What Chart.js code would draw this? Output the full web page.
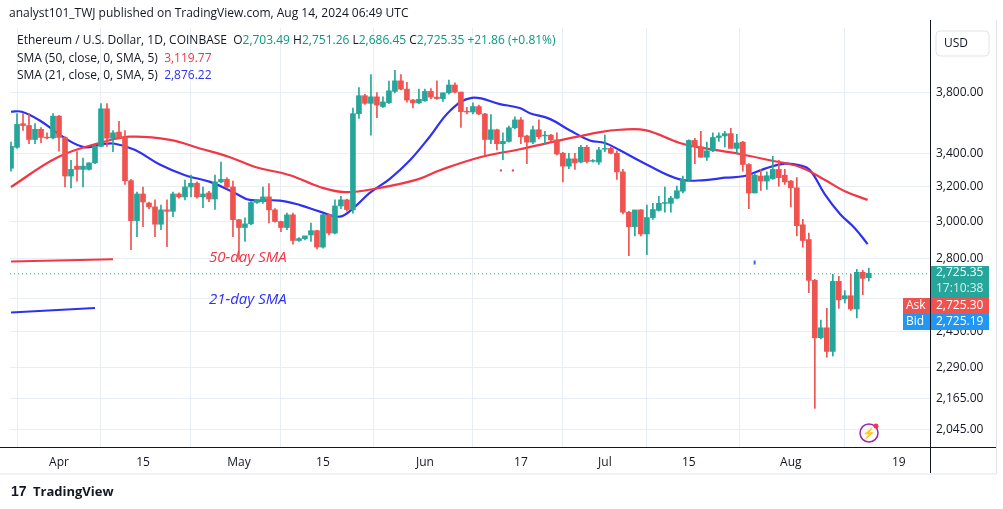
<!DOCTYPE html>
<html><head><meta charset="utf-8">
<script src="https://cdn.jsdelivr.net/npm/chart.js@4.4.1/dist/chart.umd.min.js"></script>
<style>html,body{margin:0;padding:0;background:#fff;}#wrap{position:absolute;left:0;top:0;width:1003px;height:509px;}</style>
</head><body><div id="wrap"><canvas id="c" width="1003" height="509"></canvas></div>
<script>
// Daily candles, index 0 = 24 Mar 2024 ... index 143 = 14 Aug 2024
const opens  = [3307,3437,3590,3578,3487,3553,3500,3497,3640,3500,3260,3320,3300,3300,3340,3443,3690,3495,3535,3500,3232,3003,3154,3102,3080,2983,3063,3055,3154,3137,3195,3217,3137,3160,3125,3225,3240,3195,3008,2965,2985,3105,3110,3137,3063,2998,2965,3035,2895,2905,2925,2948,2860,3035,2935,3085,3120,
3063,3657,3780,3727,3772,3705,3732,3810,3885,3826,3750,3730,3745,3810,3770,3760,3800,3855,3805,3670,3668,3705,3655,3487,3550,3460,3475,3563,3615,3510,3470,3550,3510,3515,3485,3400,3320,3365,3345,3437,3350,3345,3425,3430,3400,3285,3050,2970,3063,2930,3020,3060,
3100,3100,3130,3170,3236,3481,3440,3375,3415,3500,3510,3525,3430,3470,3330,3160,3260,3230,3245,3300,3265,3230,3190,2980,2900,2690,2420,2465,2360,2685,2600,2615,2552,2730,2703.49];
const highs  = [3470,3657,3657,3657,3590,3565,3530,3657,3645,3505,3356,3410,3370,3340,3450,3725,3725,3545,3605,3545,3240,3165,3195,3108,3120,3090,3120,3165,3160,3236,3265,3225,3195,3170,3265,3345,3250,3230,3010,3018,3110,3120,3195,3215,3070,3000,3045,3045,2910,2915,2990,2950,3040,3040,3120,3140,3125,
3695,3837,3790,3930,3802,3772,3883,3960,3930,3875,3755,3826,3826,3830,3885,3800,3890,3870,3805,3700,3730,3715,3660,3650,3555,3530,3575,3635,3630,3515,3575,3615,3540,3520,3530,3405,3400,3400,3450,3450,3360,3437,3515,3440,3415,3300,3055,3060,3065,3090,3100,3140,
3195,3140,3200,3260,3485,3495,3540,3470,3530,3530,3540,3560,3520,3475,3335,3275,3300,3285,3380,3355,3300,3235,3250,3010,2935,2695,2500,2555,2720,2710,2640,2720,2745,2740,2751.26];
const lows   = [3290,3430,3545,3460,3460,3467,3490,3490,3413,3195,3190,3230,3195,3295,3335,3440,3443,3410,3490,3210,2847,2915,2970,3070,2915,2953,2862,3025,3130,3120,3137,3130,3075,3110,3065,3220,3190,2915,2796,2890,2980,3100,3100,2990,2995,2942,2953,2875,2890,2898,2890,2850,2855,2925,2930,3070,3055,
3045,3625,3720,3515,3630,3700,3725,3800,3820,3735,3695,3725,3740,3760,3755,3740,3790,3800,3565,3655,3655,3650,3390,3460,3420,3360,3470,3555,3460,3335,3460,3490,3455,3480,3390,3225,3305,3300,3340,3340,3345,3330,3410,3395,3240,3040,2815,2920,2920,2820,3010,3055,
3050,3050,3125,3160,3230,3335,3375,3355,3410,3475,3440,3440,3400,3290,3070,3160,3175,3180,3240,3200,3210,3080,2920,2860,2630,2125,2415,2335,2340,2555,2580,2545,2510,2620,2686.45];
const closes = [3443,3585,3578,3487,3553,3500,3497,3640,3500,3260,3300,3300,3320,3340,3443,3690,3495,3530,3495,3232,3003,3154,3108,3080,2983,3063,3055,3154,3137,3195,3217,3137,3154,3125,3225,3240,3195,3008,2965,2985,3105,3118,3137,3063,2998,2965,3035,2895,2905,2920,2948,2860,3035,2935,3085,3120,3065,
3657,3780,3727,3772,3715,3737,3814,3885,3826,3750,3730,3755,3810,3770,3760,3800,3855,3805,3670,3668,3705,3655,3487,3550,3460,3475,3563,3615,3505,3470,3550,3505,3512,3485,3395,3320,3365,3340,3437,3348,3352,3420,3427,3400,3285,3050,2970,3063,2930,3020,3065,3100,
3102,3130,3173,3240,3481,3440,3375,3415,3500,3510,3525,3430,3465,3330,3160,3265,3230,3262,3300,3250,3225,3190,2975,2895,2690,2420,2465,2360,2685,2595,2615,2552,2730,2700,2725.35];
// SMA lines read at sample candle indices
const sma50Idx = [0,7.8,14.8,19.8,26.5,31.5,36.5,40.7,46.5,51.5,55.7,61.5,67.8,71.5,78.2,84.8,91.5,98.2,101.5,105.7,111.5,114.8,121.5,126.5,131.5,135.7,139,142.8];
const sma50Val = [3195,3375,3465,3505,3485,3430,3375,3315,3265,3195,3165,3190,3240,3295,3375,3425,3481,3535,3550,3548,3465,3437,3395,3356,3315,3236,3170,3120];
const sma21Idx = [0,1.8,4.8,9,12.3,14.8,17.3,20.7,24.8,29,33.2,37.3,39.8,44.8,48.2,51.5,54.8,57.3,59.8,63.2,66.5,69.8,73.2,76.8,81.5,84.8,86.5,89.8,93.2,96.5,99,101.5,105.7,111.5,115.7,119,122.3,125.7,129,131.5,133.2,135.7,138.2,140.7,142.8];
const sma21Val = [3670,3670,3611,3495,3437,3455,3460,3420,3330,3265,3225,3160,3120,3116,3090,3053,3025,3080,3160,3245,3356,3505,3677,3765,3722,3695,3660,3622,3545,3481,3465,3418,3335,3240,3236,3250,3260,3305,3335,3325,3295,3150,3040,2960,2876];
const priceTicks = [3800,3400,3200,3000,2800,2600,2450,2290,2165,2045];
const dateTickIdx = [8,22,38,52,69,85,99,113,130,148];
const dateTickLbl = ['Apr','15','May','15','Jun','17','Jul','15','Aug','19'];
const lastPrice = 2725.35, askPrice = 2725.30, bidPrice = 2725.19;

const UP='#26a69a', DN='#ef5350';
const cols = opens.map((o,i)=> closes[i]>=o ? UP : DN);
const wicks = opens.map((o,i)=>({x:i, y:[lows[i],highs[i]]}));
const bodies = opens.map((o,i)=>{let a=Math.min(o,closes[i]),b=Math.max(o,closes[i]); if(b/a<1.0015){b=a*1.0015;} return {x:i,y:[a,b]};});
const fmt = v => v.toLocaleString('en-US',{minimumFractionDigits:2,maximumFractionDigits:2});

const extras = {
  id:'extras',
  afterDraw(ch){
    const c=ch.ctx, x=ch.scales.x, y=ch.scales.y, A=ch.chartArea;
    c.save();
    const yl=y.getPixelForValue(lastPrice);
    c.strokeStyle=UP; c.lineWidth=1; c.setLineDash([1,3]);
    c.beginPath(); c.moveTo(A.left,yl+0.5); c.lineTo(A.right,yl+0.5); c.stroke(); c.setLineDash([]);
    c.lineWidth=2;
    c.strokeStyle='#f23645'; c.beginPath(); c.moveTo(x.getPixelForValue(0),y.getPixelForValue(2785)); c.lineTo(x.getPixelForValue(17),y.getPixelForValue(2797)); c.stroke();
    c.strokeStyle='#2e31f0'; c.beginPath(); c.moveTo(x.getPixelForValue(0),y.getPixelForValue(2535)); c.lineTo(x.getPixelForValue(14),y.getPixelForValue(2556)); c.stroke();
    c.font='italic 15px "Open Sans", Arial'; c.textBaseline='middle'; c.textAlign='left';
    c.fillStyle='#f23645'; c.fillText('50-day SMA',x.getPixelForValue(33),y.getPixelForValue(2805));
    c.fillStyle='#2e31f0'; c.fillText('21-day SMA',x.getPixelForValue(33),y.getPixelForValue(2595));
    c.fillStyle='#f23645'; c.fillRect(x.getPixelForValue(81.5),y.getPixelForValue(3300),2,2); c.fillRect(x.getPixelForValue(83.5),y.getPixelForValue(3300),2,2);
    c.fillStyle='#2e6bf0'; c.fillRect(x.getPixelForValue(123.8),y.getPixelForValue(2790),2,4);
    c.strokeStyle='#131722'; c.lineWidth=1;
    c.beginPath(); c.moveTo(A.right+0.5,20); c.lineTo(A.right+0.5,473); c.stroke();
    c.beginPath(); c.moveTo(0,A.bottom+0.5); c.lineTo(996,A.bottom+0.5); c.stroke();
    c.strokeStyle='#e0e3eb';
    c.beginPath(); c.moveTo(996.5,20); c.lineTo(996.5,474); c.lineTo(0,474); c.stroke();
    c.font='12px "Open Sans", Arial'; c.textAlign='left';
    c.fillStyle=UP; c.fillRect(A.right+1,266,58,32);
    c.fillStyle='#fff'; c.fillText(fmt(lastPrice),936,273);
    c.fillStyle='#d6f1ee'; c.fillText('17:10:38',936,289);
    c.fillStyle=DN; c.fillRect(903,298,27,16); c.fillRect(A.right+1,298,58,16);
    c.fillStyle='#2196f3'; c.fillRect(903,314,27,16); c.fillRect(A.right+1,314,58,16);
    c.fillStyle='#fff'; c.fillText('Ask',906,306); c.fillText(fmt(askPrice),936,306);
    c.fillText('Bid',906,322); c.fillText(fmt(bidPrice),936,322);
    c.strokeStyle='#e0e3eb'; c.beginPath(); c.roundRect(936,31,53,25,4); c.stroke();
    c.fillStyle='#131722'; c.fillText('USD',944,44);
    c.font='12px "Open Sans", Arial'; c.fillStyle='#131722';
    c.fillText('analyst101_TWJ published on TradingView.com, Aug 14, 2024 06:49 UTC',9,14);
    let t='Ethereum / U.S. Dollar, 1D, COINBASE  '; c.fillStyle='#131722'; c.fillText(t,17,41);
    let px=17+c.measureText(t).width;
    [['O','2,703.49 '],['H','2,751.26 '],['L','2,686.45 '],['C','2,725.35 ']].forEach(p=>{
      c.fillStyle='#131722'; c.fillText(p[0],px,41); px+=c.measureText(p[0]).width;
      c.fillStyle='#089981'; c.fillText(p[1],px,41); px+=c.measureText(p[1]).width;});
    c.fillStyle='#089981'; c.fillText('+21.86 (+0.81%)',px,41);
    t='SMA (50, close, 0, SMA, 5)  '; c.fillStyle='#131722'; c.fillText(t,17,59);
    c.fillStyle='#f23645'; c.fillText('3,119.77',17+c.measureText(t).width,59);
    t='SMA (21, close, 0, SMA, 5)  '; c.fillStyle='#131722'; c.fillText(t,17,76);
    c.fillStyle='#2e31f0'; c.fillText('2,876.22',17+c.measureText(t).width,76);
    c.strokeStyle='#9c27b0'; c.lineWidth=1.5; c.beginPath(); c.arc(869,433,9,0,Math.PI*2); c.stroke();
    c.fillStyle='#9c27b0'; c.font='bold 11px Arial'; c.textAlign='center'; c.fillText('⚡',869,434);
    c.fillStyle='#f23645'; c.beginPath(); c.arc(876,426,2.5,0,Math.PI*2); c.fill();
    c.textAlign='left'; c.fillStyle='#131722'; c.font='bold 13px "Open Sans", Arial';
    c.fillText('TradingView',33,492);
    c.font='bold 14px Arial'; c.fillText('17',11,492);
    c.restore();
  }
};

new Chart(document.getElementById('c'),{
  data:{datasets:[
    {type:'line',data:sma50Idx.map((v,i)=>({x:v,y:sma50Val[i]})),borderColor:'#f23645',borderWidth:2.2,pointRadius:0,tension:0.4,order:3},
    {type:'line',data:sma21Idx.map((v,i)=>({x:v,y:sma21Val[i]})),borderColor:'#2e31f0',borderWidth:2.2,pointRadius:0,tension:0.4,order:3},
    {type:'bar',data:wicks,backgroundColor:cols,barThickness:1,grouped:false,order:2},
    {type:'bar',data:bodies,backgroundColor:cols,barThickness:5,grouped:false,order:1}
  ]},
  options:{
    responsive:false,animation:false,
    layout:{padding:{left:10,top:28,right:0,bottom:0}},
    plugins:{legend:{display:false},tooltip:{enabled:false}},
    scales:{
      x:{type:'linear',min:-0.17,max:153.2,offset:false,
        grid:{color:'#e9eef4',drawTicks:false},border:{display:false},
        afterBuildTicks:s=>{s.ticks=dateTickIdx.map(v=>({value:v}));},
        afterFit:s=>{s.height=62;},
        ticks:{autoSkip:false,maxRotation:0,padding:8,color:'#131722',font:{size:12,family:'"Open Sans", Arial'},
          callback:(v)=>{const k=dateTickIdx.indexOf(v);return k>=0?dateTickLbl[k]:'';}}},
      y:{type:'logarithmic',position:'right',min:1979,max:4282,
        grid:{color:'#e9eef4',drawTicks:false},border:{display:false},
        afterBuildTicks:s=>{s.ticks=priceTicks.map(v=>({value:v}));},
        afterFit:s=>{s.width=73;},
        ticks:{padding:6,color:'#131722',font:{size:12,family:'"Open Sans", Arial'},callback:v=>fmt(v)}}
    }
  },
  plugins:[extras]
});
</script></body></html>
